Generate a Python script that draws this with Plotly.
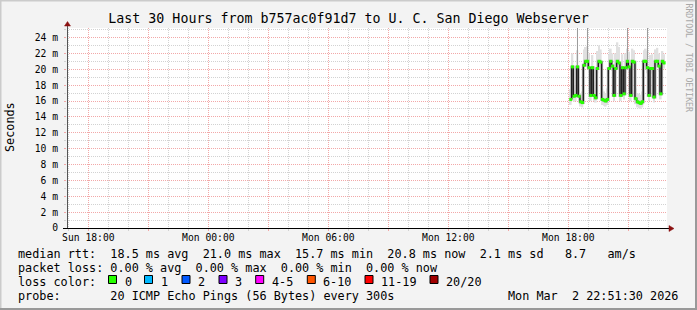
import plotly.graph_objects as go
import pandas as pd

# ---------------- data ----------------
median_ms = [16.2, 20.3, 16.6, 16.7, 20.3, 16.6, 15.9, 15.8, 20.5, 21.0,
             21.0, 20.2, 16.7, 20.2, 16.7, 16.4, 20.1, 21.0, 20.9, 16.2,
             16.1, 16.0, 16.2, 20.1, 21.0, 20.4, 16.7, 20.1, 21.0, 20.8,
             16.7, 20.2, 16.9, 20.2, 21.0, 20.3, 16.7, 21.0, 20.9, 16.3,
             15.9, 15.8, 15.7, 15.9, 21.0, 21.0, 20.2, 16.7, 20.1, 20.1,
             16.5, 21.0, 21.0, 20.4, 16.9, 21.0, 20.8]
smoke_lo_ms = [15.5, 19.6, 15.9, 16.0, 19.7, 15.9, 15.3, 15.2, 19.8, 20.3,
               20.4, 19.6, 16.0, 19.5, 16.0, 15.8, 19.5, 20.3, 20.2, 15.5,
               15.4, 15.3, 15.5, 19.4, 20.3, 19.8, 16.0, 19.5, 20.4, 20.1,
               16.0, 19.6, 16.2, 19.5, 20.3, 19.7, 16.0, 20.3, 20.2, 15.6,
               15.2, 15.1, 15.0, 15.2, 20.3, 20.4, 19.5, 16.0, 19.4, 19.5,
               15.8, 20.3, 20.4, 19.7, 16.2, 20.4, 20.1]
smoke_hi_ms = [17.5, 22.0, 18.0, 17.8, 22.4, 18.2, 17.0, 17.2, 22.5, 22.8,
               22.9, 22.0, 18.0, 21.8, 18.5, 17.8, 22.3, 23.0, 22.5, 17.5,
               17.2, 17.0, 17.6, 21.8, 22.6, 22.0, 18.2, 22.0, 23.4, 22.8,
               18.0, 21.9, 18.4, 22.0, 22.6, 22.2, 18.1, 22.6, 22.4, 17.6,
               17.0, 16.9, 16.8, 17.2, 22.4, 22.6, 22.3, 18.3, 21.8, 21.9,
               18.0, 22.5, 22.7, 22.0, 18.2, 22.3, 21.9]
spike_idx = [4, 10, 34, 46]
spike_max_ms = [26.0, 26.0, 26.0, 26.0]

x_tick_vals = ["2026-03-01 18:00", "2026-03-01 21:00", "2026-03-02 00:00",
               "2026-03-02 03:00", "2026-03-02 06:00", "2026-03-02 09:00",
               "2026-03-02 12:00", "2026-03-02 15:00", "2026-03-02 18:00",
               "2026-03-02 21:00"]
x_tick_text = ["Sun 18:00", "", "Mon 00:00", "", "Mon 06:00", "",
               "Mon 12:00", "", "Mon 18:00", ""]
y_tick_vals = [0, 2, 4, 6, 8, 10, 12, 14, 16, 18, 20, 22, 24]
y_tick_text = ["0", "2 m", "4 m", "6 m", "8 m", "10 m", "12 m", "14 m",
               "16 m", "18 m", "20 m", "22 m", "24 m"]

loss_labels = ["0", "1", "2", "3", "4-5", "6-10", "11-19", "20/20"]
loss_colors = ["#26ff00", "#00b8ff", "#0059ff", "#7e00ff", "#ff00ff",
               "#ff5500", "#ff0000", "#a10000"]

title_text = "Last 30 Hours from b757ac0f91d7 to U. C. San Diego Webserver"
line_rtt = "median rtt:  18.5 ms avg  21.0 ms max  15.7 ms min  20.8 ms now  2.1 ms sd   8.7   am/s"
line_loss = "packet loss: 0.00 % avg  0.00 % max  0.00 % min  0.00 % now"
line_color = "loss color:"
line_probe = "probe:       20 ICMP Echo Pings (56 Bytes) every 300s"
date_text = "Mon Mar  2 22:51:30 2026"

# ---------------- geometry helpers ----------------
W, H = 697, 310
L, R, T, B = 67, 667, 28, 228
FONT = "DejaVu Sans Mono"


def fx(x):
    return (x - L) / (R - L)


def fy(y):
    return (B - y) / (B - T)


def nb(s):
    return s.replace(" ", "\u00a0")


times = pd.date_range("2026-03-02 18:10", periods=len(median_ms), freq="5min")
half = pd.Timedelta(seconds=150)
mid_times = times - half

fig = go.Figure()

# smoke (light)
fig.add_trace(go.Bar(
    x=times, y=[h - l for h, l in zip(smoke_hi_ms, smoke_lo_ms)], base=smoke_lo_ms,
    width=300000, offset=-300000, marker_color="#e0e0e0", marker_line_width=0,
    hoverinfo="skip", showlegend=False))

# spikes
sx, sy = [], []
for i, m in zip(spike_idx, spike_max_ms):
    sx += [mid_times[i], mid_times[i], None]
    sy += [median_ms[i], m, None]
fig.add_trace(go.Scatter(x=sx, y=sy, mode="lines",
                         line=dict(color="#9a9a9a", width=1),
                         hoverinfo="skip", showlegend=False))

# darker smoke core
fig.add_trace(go.Scatter(x=times, y=median_ms, mode="lines", line_shape="vh",
                         line=dict(color="#bdbdbd", width=3),
                         hoverinfo="skip", showlegend=False))
# median line
fig.add_trace(go.Scatter(x=times, y=median_ms, mode="lines", line_shape="vh",
                         line=dict(color="#202020", width=1.4),
                         hoverinfo="skip", showlegend=False))
fig.add_trace(go.Scatter(x=mid_times, y=median_ms, mode="markers",
                         marker=dict(symbol="square", size=3, color=loss_colors[0],
                                     line_width=0),
                         hoverinfo="skip", showlegend=False))

MAJ = "#f2a8a8"
MIN = "#d2d2d2"
DOTS = "1px,1px"

fig.update_xaxes(
    type="date", range=["2026-03-01 16:56:06", "2026-03-02 22:56:06"],
    tickmode="array", tickvals=x_tick_vals, ticktext=x_tick_text,
    showgrid=True, gridcolor=MAJ, griddash=DOTS, gridwidth=1,
    ticks="outside", ticklen=2, tickcolor=MAJ,
    minor=dict(tickmode="linear", tick0="2026-03-01 18:00", dtick=3600000,
               showgrid=True, gridcolor=MIN, griddash=DOTS, gridwidth=1,
               ticks="outside", ticklen=2, tickcolor=MIN),
    tickfont=dict(family=FONT, size=9.7, color="#000"),
    showline=False, zeroline=False, fixedrange=True, ticklabelstandoff=-2)

fig.update_yaxes(
    range=[0, 25.2], tickmode="array", tickvals=y_tick_vals, ticktext=y_tick_text,
    showgrid=True, gridcolor=MAJ, griddash=DOTS, gridwidth=1,
    ticks="outside", ticklen=2, tickcolor=MAJ,
    minor=dict(tickmode="linear", tick0=0, dtick=1,
               showgrid=True, gridcolor=MIN, griddash=DOTS, gridwidth=1,
               ticks="outside", ticklen=2, tickcolor=MIN),
    tickfont=dict(family=FONT, size=9.7, color="#000"),
    showline=False, zeroline=False, fixedrange=True, ticklabelstandoff=4)

shapes = []
# frame
shapes.append(dict(type="line", xref="paper", yref="paper", x0=fx(0), x1=fx(W),
                   y0=fy(0.5), y1=fy(0.5), line=dict(color="#cbcbcb", width=2)))
shapes.append(dict(type="line", xref="paper", yref="paper", x0=fx(0.5), x1=fx(0.5),
                   y0=fy(0), y1=fy(H), line=dict(color="#cbcbcb", width=2)))
shapes.append(dict(type="line", xref="paper", yref="paper", x0=fx(696), x1=fx(696),
                   y0=fy(0), y1=fy(H), line=dict(color="#999999", width=2)))
shapes.append(dict(type="line", xref="paper", yref="paper", x0=fx(0), x1=fx(W),
                   y0=fy(309), y1=fy(309), line=dict(color="#999999", width=2)))
# axes
shapes.append(dict(type="line", xref="paper", yref="paper", x0=fx(67.5), x1=fx(67.5),
                   y0=fy(228.5), y1=fy(25), line=dict(color="#555555", width=1)))
shapes.append(dict(type="line", xref="paper", yref="paper", x0=fx(63), x1=fx(670),
                   y0=fy(228.5), y1=fy(228.5), line=dict(color="#000000", width=1)))
# arrows
shapes.append(dict(type="path", xref="paper", yref="paper",
                   path=f"M {fx(64.5)} {fy(26)} L {fx(70.5)} {fy(26)} L {fx(67.5)} {fy(21.5)} Z",
                   fillcolor="#8b1010", line=dict(color="#8b1010", width=0.5)))
shapes.append(dict(type="path", xref="paper", yref="paper",
                   path=f"M {fx(669)} {fy(225.5)} L {fx(669)} {fy(231.5)} L {fx(674)} {fy(228.5)} Z",
                   fillcolor="#8b1010", line=dict(color="#8b1010", width=0.5)))

annotations = []


def text(x, y, s, anchor="left", size=11.8, color="#000", angle=0):
    annotations.append(dict(xref="paper", yref="paper", x=fx(x), y=fy(y),
                            text=nb(s), showarrow=False, xanchor=anchor,
                            yanchor="middle", textangle=angle,
                            font=dict(family=FONT, size=size, color=color)))


text(16, 254, line_rtt)
text(16, 268, line_loss)
text(16, 281.5, line_color)
text(16, 295.5, line_probe)
text(680, 295.5, date_text, anchor="right")
text(10, 127, "Seconds", anchor="center", angle=-90)
text(688.5, 58, "RRDTOOL / TOBI OETIKER", anchor="center", size=8.2,
     color="#a8a8a8", angle=90)

box_lefts = [108.5, 144.5, 182, 219, 255.7, 307.3, 365, 430]
for bx, lab, col in zip(box_lefts, loss_labels, loss_colors):
    shapes.append(dict(type="rect", xref="paper", yref="paper",
                       x0=fx(bx), x1=fx(bx + 8), y0=fy(283.5), y1=fy(275.5),
                       fillcolor=col, line=dict(color="#000", width=1)))
    text(bx + 14, 281.5, lab)

fig.update_layout(
    width=W, height=H,
    margin=dict(l=L, r=W - R, t=T, b=H - B, pad=0),
    paper_bgcolor="#f3f3f3", plot_bgcolor="#ffffff",
    barmode="overlay", showlegend=False,
    title=dict(text=title_text, xref="container", yref="container", x=0.5,
               y=1 - 18.5 / H, xanchor="center", yanchor="middle",
               font=dict(family=FONT, size=13.3, color="#000")),
    shapes=shapes, annotations=annotations,
)

fig.write_html("out.html", config={"displayModeBar": False})
